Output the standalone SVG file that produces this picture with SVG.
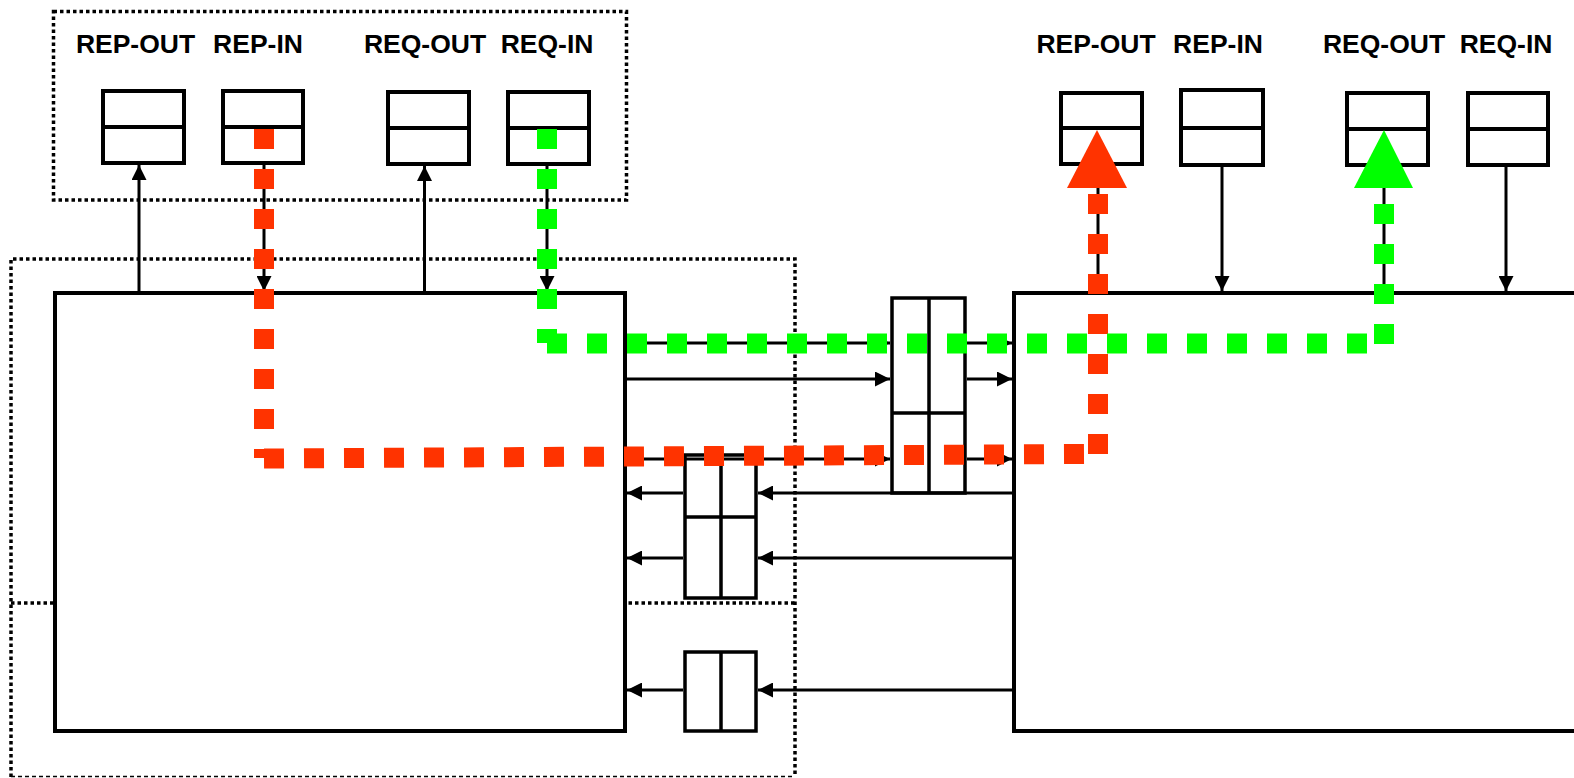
<svg xmlns="http://www.w3.org/2000/svg" width="1574" height="778" viewBox="0 0 1574 778">
<defs>
<style>
.lbl{font-family:"Liberation Sans",Arial,sans-serif;font-weight:bold;font-size:26.5px;fill:#000;text-anchor:middle}
.box{fill:#fff;stroke:#000;stroke-width:4}
.buf{fill:#fff;stroke:#000;stroke-width:3.5}
.div{stroke:#000;stroke-width:4;fill:none}
.dot{fill:none;stroke:#000;stroke-width:3.5;stroke-dasharray:3.5 3}
.thin{fill:none;stroke:#000;stroke-width:1.5;stroke-dasharray:4 3}
.arr{fill:none;stroke:#000;stroke-width:3;marker-end:url(#ah)}
.red{fill:none;stroke:#FF3300;stroke-width:20;stroke-dasharray:20 20}
.grn{fill:none;stroke:#00FF00;stroke-width:20;stroke-dasharray:20 20}
</style>
<marker id="ah" markerUnits="userSpaceOnUse" markerWidth="15" markerHeight="15" refX="15" refY="7.5" orient="auto">
<path d="M0,0 L15,7.5 L0,15 z" fill="#000"/>
</marker>
</defs>
<rect width="1574" height="778" fill="#fff"/>

<g id="regions">
<rect class="dot" x="53.5" y="11.5" width="573" height="188.5"/>
<path class="dot" d="M11,777 V259 H795 V777"/>
<path class="dot" d="M11,603 H795"/>
<path class="thin" d="M11,776.5 H795"/>
</g>

<g id="left-labels">
<text class="lbl" x="135.5" y="53">REP-OUT</text>
<text class="lbl" x="258" y="53">REP-IN</text>
<text class="lbl" x="425" y="53">REQ-OUT</text>
<text class="lbl" x="547" y="53">REQ-IN</text>
</g>
<g id="right-labels">
<text class="lbl" x="1096" y="53">REP-OUT</text>
<text class="lbl" x="1218" y="53">REP-IN</text>
<text class="lbl" x="1384" y="53">REQ-OUT</text>
<text class="lbl" x="1506" y="53">REQ-IN</text>
</g>

<g id="left-rep-out"><rect class="box" x="103" y="91" width="81" height="72"/><path class="div" d="M103,127 H184"/></g>
<g id="left-rep-in"><rect class="box" x="223" y="91" width="80" height="72"/><path class="div" d="M223,127 H303"/></g>
<g id="left-req-out"><rect class="box" x="388" y="92" width="81" height="72"/><path class="div" d="M388,128 H469"/></g>
<g id="left-req-in"><rect class="box" x="508" y="92" width="81" height="72"/><path class="div" d="M508,128 H589"/></g>

<g id="right-rep-out"><rect class="box" x="1061" y="93" width="81" height="71"/><path class="div" d="M1061,128 H1142"/></g>
<g id="right-rep-in"><rect class="box" x="1181" y="90" width="82" height="75"/><path class="div" d="M1181,128 H1263"/></g>
<g id="right-req-out"><rect class="box" x="1347" y="93" width="81" height="72"/><path class="div" d="M1347,129 H1428"/></g>
<g id="right-req-in"><rect class="box" x="1468" y="93" width="80" height="72"/><path class="div" d="M1468,129 H1548"/></g>

<g id="left-node"><rect class="box" x="55" y="293" width="570" height="438"/></g>
<g id="right-node"><rect class="box" x="1014" y="293" width="600" height="438"/></g>

<g id="mid-buffer"><rect class="buf" x="892" y="298" width="73" height="195"/><path class="div" d="M929,298 V493 M892,413 H965" style="stroke-width:3.5"/></g>
<g id="small-buffer"><rect class="buf" x="685" y="455" width="71" height="143"/><path class="div" d="M721,455 V598 M685,517 H756" style="stroke-width:3.5"/></g>
<g id="bottom-buffer"><rect class="buf" x="685" y="652" width="71" height="79"/><path class="div" d="M721,652 V731" style="stroke-width:3.5"/></g>

<g id="connectors">
<path class="arr" d="M139,291 V165"/>
<path class="arr" d="M424.5,291 V166"/>
<path class="arr" d="M264,165 V291"/>
<path class="arr" d="M547,166 V291"/>
<path class="arr" d="M1222,166 V291"/>
<path class="arr" d="M1506,166 V291"/>
<path class="arr" d="M1098,291 V168"/>
<path class="arr" d="M1384,291 V168"/>
<path class="arr" d="M627,343 H890"/>
<path class="arr" d="M967,343 H1012"/>
<path class="arr" d="M627,379 H890"/>
<path class="arr" d="M967,379 H1012"/>
<path class="arr" d="M627,459 H890"/>
<path class="arr" d="M967,459 H1012"/>
<path class="arr" d="M1012,493 H758"/>
<path class="arr" d="M683,493 H627"/>
<path class="arr" d="M1012,558 H758"/>
<path class="arr" d="M683,558 H627"/>
<path class="arr" d="M1012,690 H758"/>
<path class="arr" d="M683,690 H627"/>

<path class="red" d="M264,129 V458"/>
<path class="red" d="M264,458.5 L1084,454"/>
<path class="red" d="M1098,454 V188"/>
<polygon points="1097,130 1127,188 1067,188" fill="#FF3300"/>

<path class="grn" d="M547,129 V343"/>
<path class="grn" d="M547,343.5 H1367"/>
<path class="grn" d="M1384,344 V188"/>
<polygon points="1384,130 1413,188 1354,188" fill="#00FF00"/>
</g>
</svg>
